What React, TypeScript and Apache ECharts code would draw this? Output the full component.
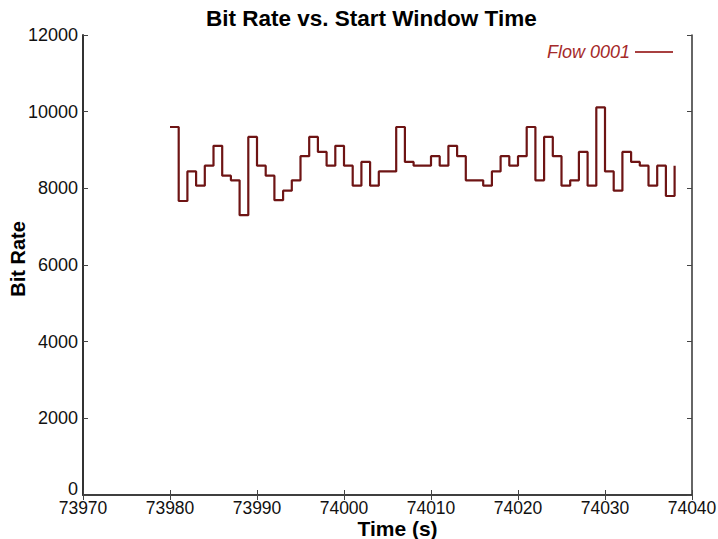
import React, { useEffect, useRef } from "react";
import * as echarts from "echarts";

const startTime = 73980;
const bitRates = [
  9600, 7670, 8440, 8070, 8590, 9110, 8330, 8210, 7300, 9340,
  8590, 8330, 7690, 7940, 8210, 8840, 9340, 8950, 8590, 9110,
  8590, 8070, 8690, 8070, 8440, 8440, 9600, 8690, 8590, 8590,
  8840, 8590, 9110, 8840, 8210, 8210, 8070, 8440, 8840, 8590,
  8840, 9600, 8210, 9340, 8840, 8070, 8210, 8950, 8070, 10110,
  8440, 7940, 8950, 8690, 8590, 8070, 8590, 7800, 8590,
];
const seriesName = "Flow 0001";
const xTicks = [73970, 74040, 10];
const yTicks = [0, 12000, 2000];

export default function App() {
  const ref = useRef<HTMLDivElement>(null);
  useEffect(() => {
    if (!ref.current) return;
    const chart = echarts.init(ref.current, null, { renderer: "svg" });
    const data = bitRates.map((v, i) => [startTime + i, v]);
    const font = "Liberation Sans, Arial, Helvetica, sans-serif";
    const axisLine = { show: true, lineStyle: { color: "#333", width: 1.5 } };
    const tick = { show: true, inside: true, length: 5, lineStyle: { color: "#444" } };
    chart.setOption({
      animation: false,
      backgroundColor: "#fff",
      title: {
        text: "Bit Rate vs. Start Window Time",
        left: 206,
        top: 7,
        padding: 0,
        textStyle: { fontFamily: font, fontSize: 22.5, fontWeight: "bold", color: "#000" },
      },
      legend: {
        right: 40,
        top: 38,
        align: "right",
        icon: "rect",
        itemWidth: 38,
        itemHeight: 2,
        itemGap: 0,
        textStyle: { fontFamily: font, fontSize: 18, fontStyle: "italic", color: "#a52a2a" },
        data: [{ name: seriesName, itemStyle: { color: "#a84040" } }],
      },
      grid: { left: 83, right: 26, top: 35, bottom: 44, outerBoundsMode: "none", containLabel: false },
      xAxis: [
        {
          type: "value",
          min: xTicks[0],
          max: xTicks[1],
          interval: xTicks[2],
          axisLine,
          axisTick: tick,
          axisLabel: { fontFamily: font, fontSize: 17.5, color: "#111", margin: 4, formatter: (v: number) => String(v) },
          splitLine: { show: false },
          name: "Time (s)",
          nameLocation: "middle",
          nameGap: 25,
          nameMoveOverlap: false,
          nameTextStyle: {
            fontFamily: font,
            fontSize: 21,
            lineHeight: 16,
            fontWeight: "bold",
            color: "#000",
            padding: [0, 0, 0, 20],
          },
        },
        {
          type: "value",
          position: "top",
          min: xTicks[0],
          max: xTicks[1],
          interval: xTicks[2],
          axisLine,
          axisTick: tick,
          axisLabel: { show: false },
          splitLine: { show: false },
        },
      ],
      yAxis: [
        {
          type: "value",
          min: yTicks[0],
          max: yTicks[1],
          interval: yTicks[2],
          axisLine: { show: true, lineStyle: { color: "#333", width: 2 } },
          axisTick: tick,
          axisLabel: {
            fontFamily: font,
            fontSize: 18,
            color: "#111",
            margin: 5,
            formatter: (v: number) => (v === 0 ? "{z|0}" : String(v)),
            rich: { z: { fontFamily: font, fontSize: 18, color: "#111", padding: [0, 0, 12, 0] } },
          },
          splitLine: { show: false },
          name: "Bit Rate",
          nameLocation: "middle",
          nameGap: 55,
          nameMoveOverlap: false,
          nameTextStyle: { fontFamily: font, fontSize: 20, fontWeight: "bold", color: "#000", padding: [0, 0, 0, 12] },
        },
        {
          type: "value",
          position: "right",
          min: yTicks[0],
          max: yTicks[1],
          interval: yTicks[2],
          axisLine,
          axisTick: tick,
          axisLabel: { show: false },
          splitLine: { show: false },
        },
      ],
      series: [
        {
          name: seriesName,
          type: "line",
          step: "end",
          data,
          showSymbol: false,
          symbol: "none",
          lineStyle: { color: "#6e1414", width: 2.2 },
          itemStyle: { color: "#a84040" },
        },
      ],
    });
    return () => chart.dispose();
  }, []);
  return <div ref={ref} style={{ position: "absolute", left: 0, top: 0, width: 718, height: 539 }} />;
}
